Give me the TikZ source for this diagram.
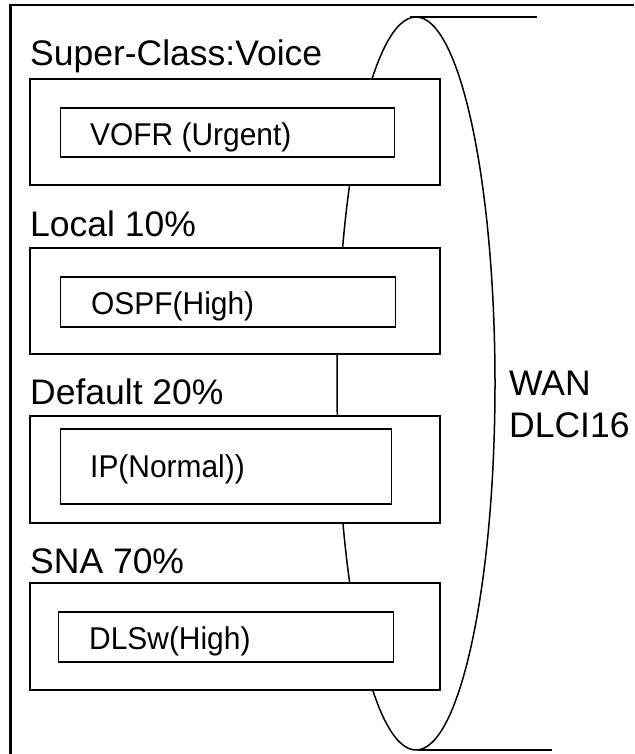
\documentclass[tikz,border=0pt]{standalone}
\usepackage{fontspec}
\setmainfont{Liberation Sans}
\newfontfamily\narrowfont[FakeStretch=0.95]{Liberation Sans}
\begin{document}
\begin{tikzpicture}[x=1pt,y=-1pt,
  frameline/.style={line width=2.4pt},
  outerbox/.style={draw,fill=white,line width=2pt,anchor=north west,inner sep=0pt},
  innerbox/.style={draw,fill=white,line width=1.8pt,anchor=north west,inner sep=0pt},
  lbl/.style={anchor=base west,inner sep=0pt,font=\fontsize{35.5}{40}\selectfont},
  itxt/.style={anchor=base west,inner sep=0pt,font=\narrowfont\fontsize{31.5}{36}\selectfont},
  ell/.style={line width=1.5pt},
  tail/.style={line width=2pt}]
\useasboundingbox (0,0) rectangle (634,754);
% frame
\coordinate (ftl) at (10.5,5);
\coordinate (ftr) at (634,5);
\coordinate (fbl) at (10.5,754);
\draw[frameline] (ftr) -- (ftl) -- (fbl);
% ellipse
\coordinate (ec) at (416,383.5);
\draw[ell] (ec) ellipse [x radius=79pt, y radius=366.5pt];
\coordinate (et) at (410,17);
\coordinate (etr) at (537,17);
\coordinate (eb) at (418,750);
\coordinate (ebr) at (552,750);
\draw[tail] (et) -- (etr);
\draw[tail] (eb) -- (ebr);
% boxes
\node[outerbox,minimum width=410pt,minimum height=106pt] (b1) at (28.5,78) {};
\node[innerbox,minimum width=334pt,minimum height=49pt] (i1) at (59.5,107) {};
\node[outerbox,minimum width=410pt,minimum height=106pt] (b2) at (28.5,247) {};
\node[innerbox,minimum width=335pt,minimum height=50pt] (i2) at (59.5,276) {};
\node[outerbox,minimum width=410pt,minimum height=107pt] (b3) at (28.5,415) {};
\node[innerbox,minimum width=331pt,minimum height=75pt] (i3) at (59.5,428) {};
\node[outerbox,minimum width=410pt,minimum height=107pt] (b4) at (28.5,582) {};
\node[innerbox,minimum width=335pt,minimum height=50pt] (i4) at (57.5,611) {};
% labels
\node[lbl] (l1) at (30,66) {Super-Class:Voice};
\node[lbl] (l2) at (30,236) {Local 10\%};
\node[lbl] (l3) at (30,404) {Default 20\%};
\node[lbl] (l4) at (30,573) {SNA 70\%};
\node[itxt] (t1) at (90,146) {VOFR (Urgent)};
\node[itxt] (t2) at (91,314) {OSPF(High)};
\node[itxt] (t3) at (90,477) {IP(Normal))};
\node[itxt] (t4) at (89,649) {DLSw(High)};
\node[lbl] (w1) at (509,395) {WAN};
\node[lbl] (w2) at (509,437) {DLCI16};
\end{tikzpicture}
\end{document}
